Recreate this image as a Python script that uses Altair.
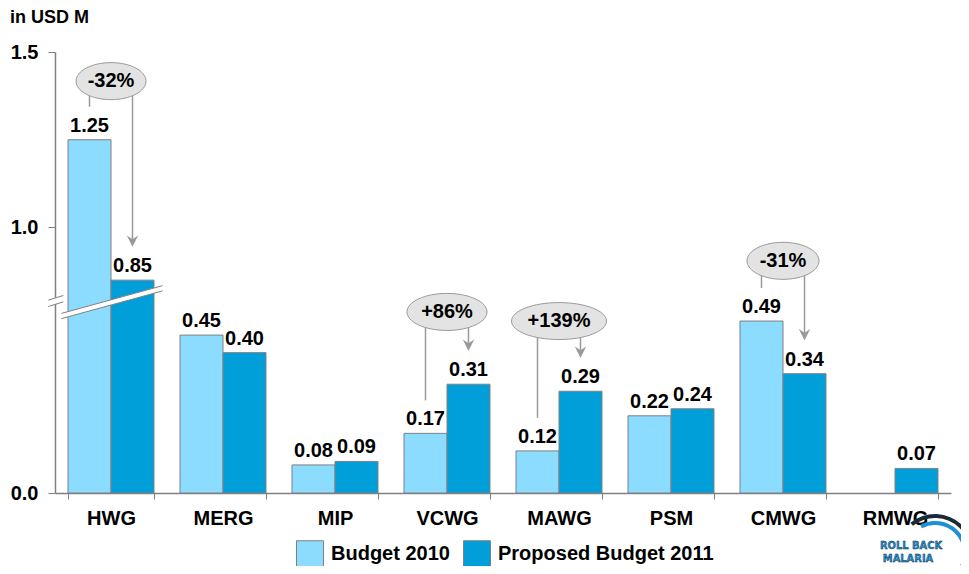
import altair as alt
import pandas as pd

# ---------------- data ----------------
categories = ["HWG", "MERG", "MIP", "VCWG", "MAWG", "PSM", "CMWG", "RMWG"]
series_names = ["Budget 2010", "Proposed Budget 2011"]
budget_2010 = [1.25, 0.45, 0.08, 0.17, 0.12, 0.22, 0.49, None]
budget_2011 = [0.85, 0.40, 0.09, 0.31, 0.29, 0.24, 0.34, 0.07]
y_ticks = [0.0, 1.0, 1.5]

# change call-outs
ann_categories = ["HWG", "VCWG", "MAWG", "CMWG"]
ann_labels = ["-32%", "+86%", "+139%", "-31%"]
ann_level = [1.417, 0.516, 0.49, 0.905]   # callout centre (y units)
ann_width = [70, 80, 95, 72]              # callout ellipse width (px)

# ---------------- style ----------------
FONT = "Liberation Sans"
LIGHT = "#8BDCFE"
DARK = "#009FDA"
GREY = "#808080"
W, H = 896, 441

rows = []
for c, a, b in zip(categories, budget_2010, budget_2011):
    if a is not None:
        rows.append({"cat": c, "series": series_names[0], "value": a, "label": f"{a:.2f}"})
    if b is not None:
        rows.append({"cat": c, "series": series_names[1], "value": b, "label": f"{b:.2f}"})
bars_df = pd.DataFrame(rows)

ann_rows = []
for c, l, lv, w in zip(ann_categories, ann_labels, ann_level, ann_width):
    i = categories.index(c)
    r = 37.0 / w
    ann_rows.append({
        "cat": c, "pct": l, "level": lv,
        "v_from": budget_2010[i], "v_to": budget_2011[i],
        "shape": f"M-1,0A1,{r:.3f},0,1,0,1,0A1,{r:.3f},0,1,0,-1,0Z",
        "esize": float(w * w),
    })
ann_df = pd.DataFrame(ann_rows)

yscale = alt.Scale(domain=[0, 0.55, 0.7934, 1.5], range=[H, 248, 248, 0], nice=False, zero=False)

xenc = alt.X(
    "cat:N", sort=categories,
    scale=alt.Scale(paddingInner=0.232, paddingOuter=0.116),
    axis=alt.Axis(title=None, labelAngle=0, labelFont=FONT, labelFontSize=20,
                  labelFontWeight="bold", labelColor="black", labelPadding=9,
                  tickSize=6, tickColor=GREY, domainColor=GREY, tickBand="extent",
                  domainWidth=1.5),
)
xoff = alt.XOffset("series:N", sort=series_names,
                   scale=alt.Scale(paddingInner=0, paddingOuter=0))

bars = alt.Chart(bars_df).mark_bar(stroke=GREY, strokeWidth=1).encode(
    x=xenc,
    xOffset=xoff,
    y=alt.Y("value:Q", scale=yscale,
            axis=alt.Axis(title=None, values=y_ticks, format=".1f", labelFont=FONT,
                          labelFontSize=20, labelFontWeight="bold", labelColor="black",
                          tickSize=7, tickColor=GREY, domainColor=GREY, labelPadding=10,
                          grid=False, domainWidth=1.5)),
    color=alt.Color("series:N", sort=series_names,
                    scale=alt.Scale(domain=series_names, range=[LIGHT, DARK]),
                    legend=alt.Legend(orient="none", legendX=241, legendY=488,
                                      direction="horizontal", title=None,
                                      symbolType="square", symbolSize=729,
                                      symbolStrokeColor=GREY, symbolStrokeWidth=1,
                                      labelFont=FONT, labelFontSize=20,
                                      labelFontWeight="bold", labelColor="black",
                                      labelOffset=7, columnPadding=11, padding=0,
                                      labelLimit=0)),
)

labels = alt.Chart(bars_df).mark_text(
    baseline="bottom", dy=-4, font=FONT, fontSize=20, fontWeight="bold", color="black"
).encode(x=xenc, xOffset=xoff, y=alt.Y("value:Q", scale=yscale), text="label:N")

# axis / bar break decoration (pixel positions)
break_segments = [
    ((-6.7, 251.3), (8.3, 246.7), 3.2),
    ((6.5, 264.0), (107.5, 236.3), 2.6),
]
decor = []
dummy = pd.DataFrame({"d": [0]})
for (x1, y1), (x2, y2), hw in break_segments:
    decor.append(alt.Chart(dummy).mark_rule(color="white", strokeWidth=2 * hw).encode(
        x=alt.value(x1), x2=alt.value(x2), y=alt.value(y1), y2=alt.value(y2)))
    for s in (-hw, hw):
        decor.append(alt.Chart(dummy).mark_rule(color=GREY, strokeWidth=1).encode(
            x=alt.value(x1), x2=alt.value(x2), y=alt.value(y1 + s), y2=alt.value(y2 + s)))

ARROW_GREY = "#9A9A9A"
line_from = alt.Chart(ann_df).mark_rule(color=ARROW_GREY, strokeWidth=1.5, xOffset=-21.5,
                                        y2Offset=-33).encode(
    x=xenc, y=alt.Y("level:Q", scale=yscale), y2="v_from:Q")
line_to = alt.Chart(ann_df).mark_rule(color=ARROW_GREY, strokeWidth=1.5, xOffset=21.5,
                                      y2Offset=-40).encode(
    x=xenc, y=alt.Y("level:Q", scale=yscale), y2="v_to:Q")
arrow_head = alt.Chart(ann_df).mark_point(
    shape="M0,1L-1,-1L0,-0.35L1,-1Z", filled=True, color=ARROW_GREY, opacity=1,
    size=130, xOffset=21.5, yOffset=-39).encode(x=xenc, y=alt.Y("v_to:Q", scale=yscale))
ellipses = alt.Chart(ann_df).mark_point(
    filled=True, fill="#E3E3E3", stroke="#9A9A9A", strokeWidth=1, opacity=1).encode(
    x=xenc, y=alt.Y("level:Q", scale=yscale),
    shape=alt.Shape("shape:N", scale=None, legend=None),
    size=alt.Size("esize:Q", scale=None, legend=None))
pct_text = alt.Chart(ann_df).mark_text(
    font=FONT, fontSize=20, fontWeight="bold", color="black", baseline="middle").encode(
    x=xenc, y=alt.Y("level:Q", scale=yscale), text="pct:N")

unit_text = alt.Chart(pd.DataFrame({"t": ["in USD M"]})).mark_text(
    font=FONT, fontSize=18, fontWeight="bold", color="black", align="left",
    baseline="middle").encode(text="t:N", x=alt.value(-45), y=alt.value(-34))

# logo approximation
logo = [
    alt.Chart(dummy).mark_arc(radius=39, radius2=35, theta=5.6, theta2=8.5, color="#1A2A3A").encode(
        x=alt.value(880), y=alt.value(501)),
    alt.Chart(dummy).mark_arc(radius=32, radius2=28, theta=5.8, theta2=8.3, color="#1E90D6").encode(
        x=alt.value(880), y=alt.value(501)),
    alt.Chart(pd.DataFrame({"t": ["ROLL BACK"]})).mark_text(
        font="DejaVu Sans Condensed", fontSize=11, fontWeight="bold", color="#1E90D6",
        stroke="#123", strokeWidth=0.4).encode(text="t:N", x=alt.value(856), y=alt.value(494)),
    alt.Chart(pd.DataFrame({"t": ["MALARIA"]})).mark_text(
        font="DejaVu Sans Condensed", fontSize=11, fontWeight="bold", color="#1E90D6",
        stroke="#123", strokeWidth=0.4).encode(text="t:N", x=alt.value(853), y=alt.value(507)),
]

chart = alt.layer(
    bars, *decor, labels, line_from, line_to, arrow_head, ellipses, pct_text, unit_text, *logo
).properties(
    width=W, height=H,
    autosize=alt.AutoSizeParams(type="none"),
    padding={"left": 47, "top": 44, "right": 10, "bottom": 73},
).configure_view(stroke=None)

chart.save("out.html", embed_options={"renderer": "svg", "actions": False})
